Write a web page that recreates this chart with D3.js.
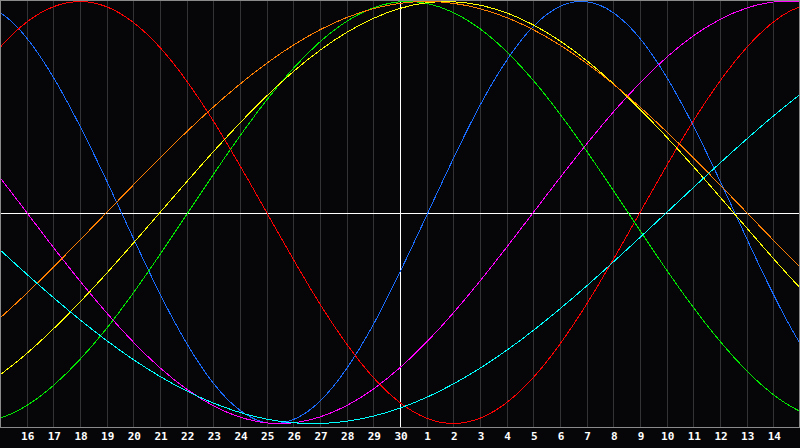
<!DOCTYPE html>
<html><head><meta charset="utf-8">
<script src="https://cdn.jsdelivr.net/npm/d3@7"></script>
<style>
html,body{margin:0;padding:0;background:#060608;}
svg{display:block;}
</style></head>
<body>
<script>
// Day labels under the grid lines (index k=1..29)
const dayLabels = ["16","17","18","19","20","21","22","23","24","25","26","27","28","29","30",
                   "1","2","3","4","5","6","7","8","9","10","11","12","13","14"];
const todayIndex = 15; // "30"
// Sample positions (day offset from the left edge)
const sampleDays = [-2,0,2,4,6,8,10,12,14,16,18,20,22,24,26,28,30,32];
// Series values (-1..1) at the sample days
const physical =     [0.976,0.947,0.641,0.150,-0.386,-0.809,-0.997,-0.894,-0.531,-0.014,0.508,0.882,0.999,0.825,0.411,-0.123,-0.620,-0.938];
const emotional =    [0.434,0.782,0.975,0.975,0.782,0.434,0,-0.434,-0.782,-0.975,-0.975,-0.782,-0.434,0,0.434,0.782,0.975,0.975];
const intellectual = [-0.988,-0.974,-0.820,-0.549,-0.199,0.180,0.533,0.809,0.970,0.991,0.871,0.626,0.291,-0.086,-0.450,-0.750,-0.942,-0.999];
const intuitive =    [0.476,0.165,-0.165,-0.476,-0.736,-0.916,-0.997,-0.969,-0.837,-0.614,-0.325,0,0.325,0.614,0.837,0.969,0.997,0.916];
const aesthetic =    [-0.920,-0.769,-0.552,-0.288,0,0.288,0.552,0.769,0.920,0.994,0.983,0.889,0.720,0.489,0.218,-0.073,-0.357,-0.611];
const awareness =    [-0.707,-0.5,-0.259,0,0.259,0.5,0.707,0.866,0.966,1,0.966,0.866,0.707,0.5,0.259,0,-0.259,-0.5];
const spiritual =    [0.059,-0.177,-0.403,-0.607,-0.777,-0.903,-0.979,-1.000,-0.965,-0.876,-0.738,-0.559,-0.348,-0.118,0.118,0.348,0.559,0.738];

const seriesList = [
  {name:"physical", values:physical, color:"#1a6cff"},
  {name:"emotional", values:emotional, color:"#ff0000"},
  {name:"intellectual", values:intellectual, color:"#00e800"},
  {name:"intuitive", values:intuitive, color:"#ff00ff"},
  {name:"aesthetic", values:aesthetic, color:"#ffff00"},
  {name:"awareness", values:awareness, color:"#ff8000"},
  {name:"spiritual", values:spiritual, color:"#00ffff"}
];

const W = 800, H = 448, plotBottom = 427;
const svg = d3.select("body").append("svg").attr("width", W).attr("height", H);
svg.append("rect").attr("width", W).attr("height", H).attr("fill", "#060608");

const x = d3.scaleLinear().domain([0, 30]).range([0, 800]);
const y = d3.scaleLinear().domain([-1, 1]).range([423.5, 1.5]);

svg.append("defs").append("clipPath").attr("id","clip")
  .append("rect").attr("x",1).attr("y",1).attr("width",798).attr("height",plotBottom-1);

// vertical grid lines
const ticks = d3.range(1, 30);
svg.append("g").selectAll("line").data(ticks).join("line")
  .attr("x1", d => Math.round(x(d)) + 0.5).attr("x2", d => Math.round(x(d)) + 0.5)
  .attr("y1", 1).attr("y2", plotBottom)
  .attr("stroke", "#333335").attr("stroke-width", 1).attr("shape-rendering","crispEdges");

// frame
svg.append("path")
  .attr("d", `M0.5,${plotBottom+0.5} V0.5 H799.5 V${plotBottom+0.5} Z`)
  .attr("fill","none").attr("stroke","#8a8a8a").attr("stroke-width",1).attr("shape-rendering","crispEdges");

// center horizontal and today vertical white lines
svg.append("line").attr("x1",1).attr("x2",799).attr("y1",213.5).attr("y2",213.5)
  .attr("stroke","#ffffff").attr("shape-rendering","crispEdges");
svg.append("line").attr("x1",Math.round(x(todayIndex))+0.5).attr("x2",Math.round(x(todayIndex))+0.5)
  .attr("y1",1).attr("y2",plotBottom)
  .attr("stroke","#ffffff").attr("shape-rendering","crispEdges");

// curves
const line = d3.line()
  .x((d,i) => x(sampleDays[i]))
  .y(d => y(d))
  .curve(d3.curveNatural);

svg.append("g").attr("clip-path","url(#clip)")
  .selectAll("path").data(seriesList).join("path")
  .attr("d", s => line(s.values))
  .attr("fill","none").attr("stroke", s => s.color).attr("stroke-width",1)
  .attr("shape-rendering","crispEdges");

// bottom axis labels
const axis = d3.axisBottom(x).tickValues(ticks)
  .tickFormat(d => dayLabels[d-1]).tickSize(0).tickPadding(0);
const gAxis = svg.append("g").attr("transform", `translate(0.5,${plotBottom+5})`).call(axis);
gAxis.select(".domain").remove();
gAxis.selectAll("text")
  .attr("fill","#ffffff")
  .attr("font-family","'DejaVu Sans Mono', monospace")
  .attr("font-weight","bold")
  .attr("font-size","11px")
  .attr("dy","0.71em");
</script>
</body></html>
